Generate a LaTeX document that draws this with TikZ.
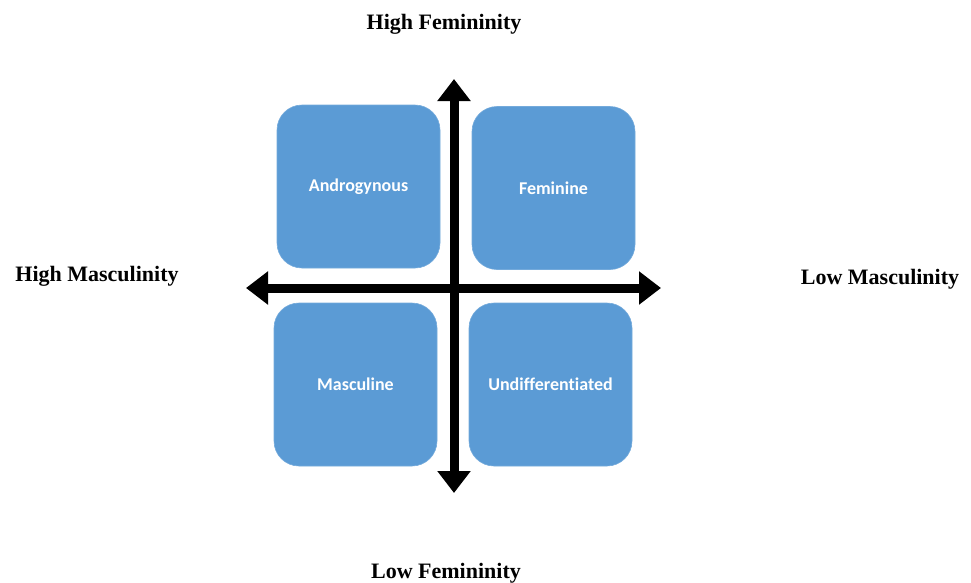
\documentclass[tikz,border=0pt]{standalone}
\usepackage{fontspec}
\setmainfont{Liberation Serif}
\newfontfamily\boxfont[Ligatures=NoCommon]{Carlito}
\usetikzlibrary{arrows.meta}
\definecolor{boxblue}{HTML}{5B9BD5}
\tikzset{
  quad/.style={fill=boxblue, draw=boxblue!85!white, line width=0.6pt, rounded corners=25pt, minimum width=163pt, minimum height=163pt, inner sep=0pt, text=white, font=\boxfont\bfseries\fontsize{18}{21}\selectfont},
  axislabel/.style={font=\bfseries\fontsize{22}{26}\selectfont, inner sep=0pt, text=black},
  axis/.style={line width=9pt, {Triangle[width=32pt,length=22pt]}-{Triangle[width=32pt,length=22pt]}}
}
\begin{document}
\begin{tikzpicture}[x=1pt,y=-1pt]
\useasboundingbox (0,0) rectangle (971,582);
\node[quad] (andro) at (358.5,186.5) {Androgynous};
\node[quad] (fem) at (553.5,188) {Feminine};
\node[quad] (masc) at (355.5,384.5) {Masculine};
\node[quad] (undiff) at (550.5,384.5) {Undifferentiated};
\coordinate (top) at (454,79);
\coordinate (bottom) at (454,493);
\coordinate (left) at (246,288);
\coordinate (right) at (661,288);
\draw[axis] (bottom) -- (top);
\draw[axis] (left) -- (right);
\node[axislabel] (hf) at (444,24) {High Femininity};
\node[axislabel] (lf) at (446,573) {Low Femininity};
\node[axislabel] (hm) at (97,276) {High Masculinity};
\node[axislabel] (lm) at (880,279) {Low Masculinity};
\end{tikzpicture}
\end{document}
